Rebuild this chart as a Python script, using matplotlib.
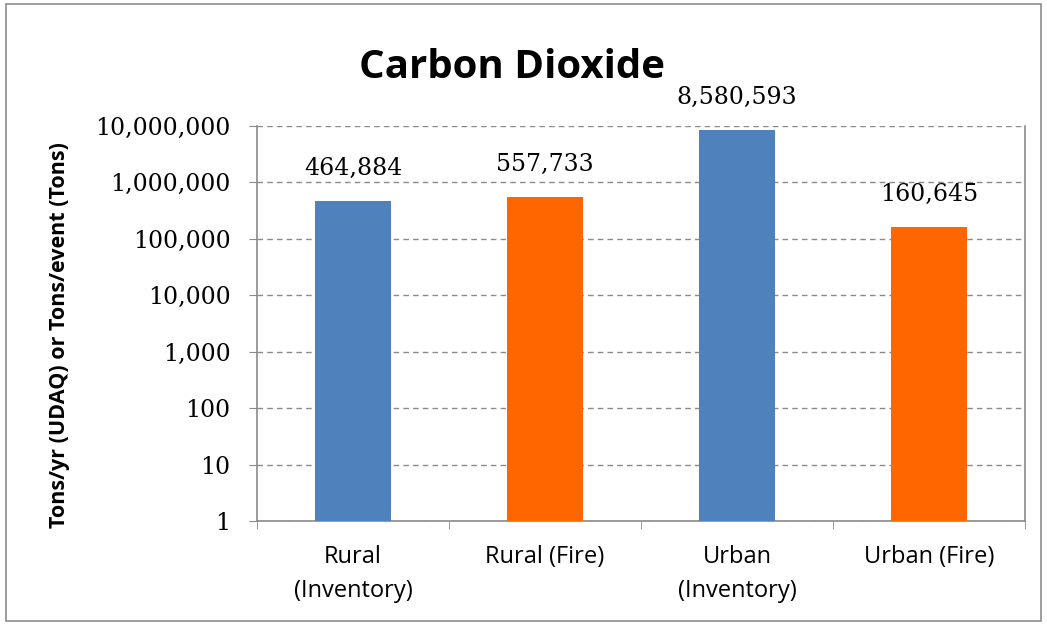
"""Carbon dioxide emissions by source, log-scale bar chart."""

import matplotlib
matplotlib.use("Agg")
import matplotlib.pyplot as plt
from matplotlib.patches import Rectangle
from matplotlib.ticker import FixedLocator, FuncFormatter, NullLocator


CATEGORIES = ["Rural\n(Inventory)", "Rural (Fire)", "Urban\n(Inventory)", "Urban (Fire)"]
VALUES = [464884, 557733, 8580593, 160645]
BAR_COLORS = ["#4F81BD", "#FF6600", "#4F81BD", "#FF6600"]
Y_TICKS = [1, 10, 100, 1000, 10000, 100000, 1000000, 10000000]

SANS = ["Open Sans", "DejaVu Sans"]
SERIF = ["DejaVu Serif"]


def main() -> None:
    """The main function."""

    fig = plt.figure(figsize=(10.47, 6.27), dpi=100)
    fig.patch.set_facecolor("white")

    # Outer chart border.
    fig.patches.append(Rectangle(
        (6 / 1047, 6 / 627), 1035 / 1047, 617 / 627,
        transform=fig.transFigure, fill=False, edgecolor="#8c8c8c",
        linewidth=1.2
    ))

    axes = fig.add_axes([257 / 1047, 106 / 627, 768 / 1047, 395 / 627])

    positions = list(range(len(CATEGORIES)))
    axes.bar(positions, VALUES, width=0.4, color=BAR_COLORS, zorder=3)

    axes.set_yscale("log")
    axes.set_ylim(1, 10000000)
    axes.set_xlim(-0.5, len(CATEGORIES) - 0.5)

    axes.yaxis.set_major_locator(FixedLocator(Y_TICKS))
    axes.yaxis.set_minor_locator(NullLocator())
    axes.yaxis.set_major_formatter(FuncFormatter(lambda v, _: f"{int(round(v)):,}"))
    axes.grid(axis="y", linestyle=(0, (4, 3)), color="#8a8a8a", linewidth=1.0, zorder=0)

    # Category labels centred on bars, ticks on the boundaries.
    axes.set_xticks(positions)
    axes.set_xticklabels(CATEGORIES, fontfamily=SANS, fontsize=17, linespacing=1.6)
    axes.tick_params(axis="x", length=0, pad=17)
    axes.set_xticks([p + 0.5 for p in [-1] + positions], minor=True)
    axes.tick_params(axis="x", which="minor", length=6, direction="out", color="#8a8a8a")

    axes.tick_params(axis="y", length=6, direction="out", color="#8a8a8a", pad=13)
    for label in axes.get_yticklabels():
        label.set_fontfamily(SERIF)
        label.set_fontsize(17)

    for side in ("left", "right", "bottom"):
        axes.spines[side].set_color("#8a8a8a")
        axes.spines[side].set_linewidth(1.2)
    axes.spines["top"].set_visible(False)

    axes.set_ylabel("Tons/yr (UDAQ) or Tons/event (Tons)", fontfamily=SANS,
                    fontsize=15.5, fontweight="bold")
    axes.yaxis.set_label_coords(-0.244, 0.47)

    for pos, value in zip(positions, VALUES):
        axes.annotate(f"{value:,}", (pos, value), xytext=(0, 15),
                      textcoords="offset points", ha="center", va="bottom",
                      fontfamily=SERIF, fontsize=17)

    fig.text(512 / 1047, 1 - 67 / 627, "Carbon Dioxide", ha="center", va="center",
             fontfamily=SANS, fontsize=29, fontweight="bold")

    fig.savefig("out.png", dpi=100)


if __name__ == "__main__":
    main()
